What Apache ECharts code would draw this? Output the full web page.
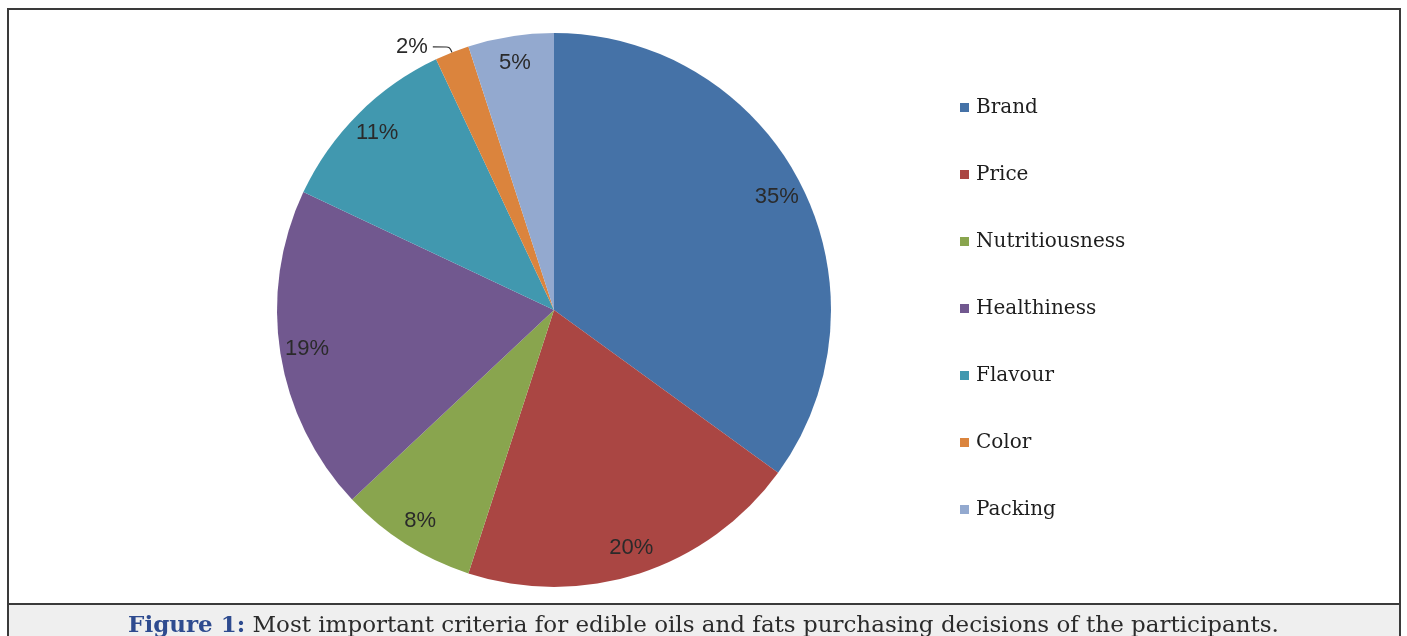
<!DOCTYPE html>
<html>
<head>
<meta charset="utf-8">
<script src="https://cdn.jsdelivr.net/npm/echarts@6/dist/echarts.min.js"></script>
<style>
html,body{margin:0;padding:0;background:#fff;}
#chart{width:1407px;height:636px;}
</style>
</head>
<body>
<div id="chart"></div>
<script>
const categories = ['Brand', 'Price', 'Nutritiousness', 'Healthiness', 'Flavour', 'Color', 'Packing'];
const values = [35, 20, 8, 19, 11, 2, 5];
const colors = ['#4572A7', '#AA4643', '#89A54E', '#71588F', '#4198AF', '#DB843D', '#93A9CF'];
const captionLead = 'Figure 1:';
const captionText = ' Most important criteria for edible oils and fats purchasing decisions of the participants.';

const pieData = categories.map((name, i) => ({ name: name, value: values[i], itemStyle: { color: colors[i] } }));
const labelData = categories.map((name, i) => {
  const d = { name: name, value: values[i] };
  if (name === 'Color') {
    d.label = { position: 'outside' };
    d.labelLine = { show: true, length: 6, length2: 17, smooth: 0.3, lineStyle: { color: '#333', width: 1.2 } };
  }
  return d;
});

const chart = echarts.init(document.getElementById('chart'));
chart.setOption({
  animation: false,
  backgroundColor: '#ffffff',
  title: {
    text: '{b|' + captionLead + '}{n|' + captionText + '}',
    left: 'center',
    top: 615,
    padding: 0,
    textStyle: {
      rich: {
        b: { fontFamily: 'DejaVu Serif', fontWeight: 'bold', fontSize: 23, color: '#2E4B8F' },
        n: { fontFamily: 'DejaVu Serif', fontWeight: 'normal', fontSize: 23, color: '#2b2b2b' }
      }
    }
  },
  graphic: [
    { type: 'rect', z: 0, shape: { x: 8, y: 605, width: 1392, height: 40 }, style: { fill: '#efefef' } },
    { type: 'rect', z: 1, shape: { x: 8, y: 9, width: 1392, height: 660 }, style: { fill: null, stroke: '#3a3a3a', lineWidth: 2 } },
    { type: 'line', z: 1, shape: { x1: 8, y1: 604, x2: 1400, y2: 604 }, style: { stroke: '#3a3a3a', lineWidth: 2 } }
  ],
  legend: {
    orient: 'vertical',
    left: 955,
    top: 92,
    data: categories,
    itemWidth: 9,
    itemHeight: 9,
    itemGap: 46,
    icon: 'rect',
    selectedMode: false,
    textStyle: { fontFamily: 'DejaVu Serif', fontSize: 20, color: '#1e1e1e', lineHeight: 21, padding: [0, 0, 0, 2] }
  },
  series: [
    {
      type: 'pie',
      name: 'main',
      center: [554, 310],
      radius: [0, 277],
      startAngle: 90,
      clockwise: true,
      avoidLabelOverlap: false,
      label: { show: false },
      labelLine: { show: false },
      itemStyle: { borderWidth: 0 },
      emphasis: { disabled: true },
      data: pieData
    },
    {
      type: 'pie',
      name: 'labels',
      center: [554, 310],
      radius: [217, 277],
      startAngle: 90,
      clockwise: true,
      silent: true,
      avoidLabelOverlap: false,
      itemStyle: { color: 'rgba(0,0,0,0)', borderWidth: 0 },
      label: {
        show: true,
        position: 'inside',
        formatter: '{c}%',
        fontFamily: 'Liberation Sans',
        fontSize: 22,
        color: '#2a2a2a'
      },
      labelLine: { show: false },
      emphasis: { disabled: true },
      data: labelData
    }
  ]
});
</script>
</body>
</html>
